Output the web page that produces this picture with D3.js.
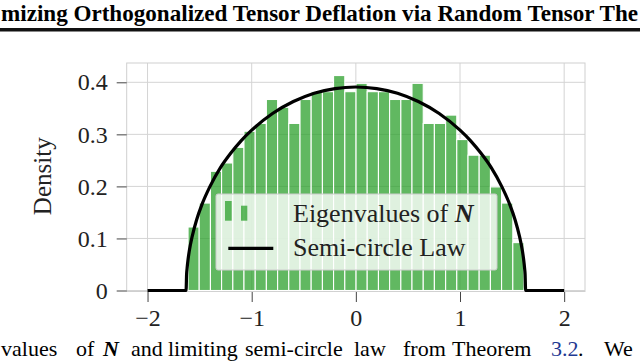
<!DOCTYPE html>
<html>
<head>
<meta charset="utf-8">
<script src="https://cdn.jsdelivr.net/npm/d3@7"></script>
<style>
  body { margin: 0; background: #fff; }
  svg { display: block; }
  text { font-family: "Liberation Serif", "DejaVu Serif", serif; }
</style>
</head>
<body>
<div id="chart"></div>
<script>
// histogram of eigenvalues (bin edges + density per bin)
var binEdges = [-1.611, -1.504, -1.396, -1.289, -1.181, -1.074, -0.966, -0.859, -0.751, -0.644,
    -0.536, -0.429, -0.321, -0.214, -0.106, 0.002, 0.109, 0.217, 0.324, 0.432,
    0.539, 0.647, 0.754, 0.862, 0.969, 1.077, 1.184, 1.292, 1.399, 1.507, 1.614];
var densities = [0.122, 0.168, 0.229, 0.245, 0.275, 0.306, 0.321, 0.367, 0.352, 0.321,
    0.367, 0.382, 0.382, 0.413, 0.382, 0.398, 0.382, 0.382, 0.367, 0.367,
    0.398, 0.321, 0.321, 0.337, 0.290, 0.260, 0.260, 0.199, 0.168, 0.092];

// semi-circle law curve
var lawX = [-2, -1.63, -1.625, -1.62, -1.61, -1.6, -1.57, -1.53, -1.48, -1.4, -1.3, -1.2, -1.1, -1.0,
    -0.8, -0.6, -0.4, -0.2, 0, 0.2, 0.4, 0.6, 0.8, 1.0, 1.1, 1.2, 1.3, 1.4, 1.48, 1.53, 1.57,
    1.6, 1.61, 1.62, 1.625, 1.63, 2];
var lawY = [0, 0, 0.031, 0.043, 0.061, 0.075, 0.105, 0.135, 0.164, 0.200, 0.236, 0.264, 0.288, 0.308,
    0.340, 0.363, 0.379, 0.388, 0.391, 0.388, 0.379, 0.363, 0.340, 0.308, 0.288, 0.264, 0.236, 0.200, 0.164, 0.135, 0.105,
    0.075, 0.061, 0.043, 0.031, 0, 0];

var xTicks = [-2, -1, 0, 1, 2];
var yTicks = [0, 0.1, 0.2, 0.3, 0.4];
var legendLabels = ["Eigenvalues of ", "Semi-circle Law"];

var svgWidth = 640, svgHeight = 363;
var margin = { top: 63, right: 55, bottom: 71.5, left: 126.7 };
var width = svgWidth - margin.left - margin.right;
var height = svgHeight - margin.top - margin.bottom;
var serif = "'Liberation Serif', 'DejaVu Serif', serif";

var svg = d3.select("#chart").append("svg")
    .attr("width", svgWidth)
    .attr("height", svgHeight);

// page header (cropped title line)
svg.append("text")
    .attr("x", 1)
    .attr("y", 21)
    .attr("font-size", 22.5)
    .attr("font-weight", "bold")
    .attr("textLength", 637)
    .attr("lengthAdjust", "spacingAndGlyphs")
    .text("mizing Orthogonalized Tensor Deflation via Random Tensor The");
svg.append("rect")
    .attr("x", 0).attr("y", 28)
    .attr("width", svgWidth).attr("height", 3.5)
    .attr("fill", "#111");

var chartGroup = svg.append("g")
    .attr("transform", `translate(${margin.left}, ${margin.top})`);

var xScale = d3.scaleLinear().domain([-2.2, 2.2]).range([0, width]);
var yScale = d3.scaleLinear().domain([0, 0.4]).range([227.5, 19.3]);

// grid
chartGroup.selectAll(".vgrid").data(xTicks).enter().append("line")
    .attr("x1", d => xScale(d)).attr("x2", d => xScale(d))
    .attr("y1", 0).attr("y2", height)
    .attr("stroke", "#d4d4d4").attr("stroke-width", 1);
chartGroup.selectAll(".hgrid").data(yTicks).enter().append("line")
    .attr("x1", 0).attr("x2", width)
    .attr("y1", d => yScale(d)).attr("y2", d => yScale(d))
    .attr("stroke", "#d4d4d4").attr("stroke-width", 1);

// frame
chartGroup.append("rect")
    .attr("x", 0).attr("y", 0)
    .attr("width", width).attr("height", height)
    .attr("fill", "none")
    .attr("stroke", "#cfcfcf").attr("stroke-width", 1);

// bars
chartGroup.selectAll(".bar").data(densities).enter().append("rect")
    .attr("x", (d, i) => xScale(binEdges[i]))
    .attr("width", (d, i) => xScale(binEdges[i + 1]) - xScale(binEdges[i]))
    .attr("y", d => yScale(d))
    .attr("height", d => yScale(0) - yScale(d))
    .attr("fill", "#2ca02c").attr("fill-opacity", 0.75)
    .attr("stroke", "#fff").attr("stroke-width", 1.1);

// semi-circle law line
var lawData = lawX.map((x, i) => [x, lawY[i]]);
var line = d3.line()
    .x(d => xScale(d[0]))
    .y(d => yScale(d[1]))
    .curve(d3.curveMonotoneX);
chartGroup.append("path")
    .datum(lawData)
    .attr("d", line)
    .attr("fill", "none")
    .attr("stroke", "#000")
    .attr("stroke-width", 3.2)
    .attr("stroke-linejoin", "round");

// axes
var xAxis = d3.axisBottom(xScale).tickValues(xTicks).tickSize(10).tickPadding(7)
    .tickFormat(d => d < 0 ? "\u2212" + Math.abs(d) : d);
var yAxis = d3.axisLeft(yScale).tickValues(yTicks).tickSize(10).tickPadding(9)
    .tickFormat(d => d === 0 ? "0" : d3.format(".1f")(d));

var gx = chartGroup.append("g")
    .attr("transform", `translate(0,${yScale(0) + 1.5})`)
    .call(xAxis);
var gy = chartGroup.append("g").call(yAxis);
[gx, gy].forEach(function (g) {
    g.attr("font-family", null);
    g.select(".domain").remove();
    g.selectAll(".tick line").attr("stroke", "#444").attr("stroke-width", 1);
    g.selectAll(".tick text")
        .style("font-family", serif)
        .style("font-size", "24px")
        .attr("fill", "#222");
});

// y axis label
chartGroup.append("text")
    .attr("transform", "rotate(-90)")
    .attr("x", -height / 2 + 1)
    .attr("y", -margin.left + 51)
    .attr("text-anchor", "middle")
    .attr("font-size", 25)
    .attr("fill", "#222")
    .text("Density");

// legend
var legend = svg.append("g");
legend.append("rect")
    .attr("x", 216).attr("y", 194)
    .attr("width", 281).attr("height", 76)
    .attr("rx", 2)
    .attr("fill", "#fff").attr("fill-opacity", 0.8)
    .attr("stroke", "#cccccc").attr("stroke-width", 1);
legend.append("rect")
    .attr("x", 225).attr("y", 201).attr("width", 6.7).attr("height", 19.7)
    .attr("fill", "#2ca02c").attr("fill-opacity", 0.75);
legend.append("rect")
    .attr("x", 241).attr("y", 205.7).attr("width", 6.3).attr("height", 15)
    .attr("fill", "#2ca02c").attr("fill-opacity", 0.75);
legend.append("line")
    .attr("x1", 228.3).attr("x2", 273.3)
    .attr("y1", 248.3).attr("y2", 248.3)
    .attr("stroke", "#000").attr("stroke-width", 3.2);
var t1 = legend.append("text")
    .attr("x", 293).attr("y", 222)
    .attr("font-size", 26).attr("fill", "#222")
    .text(legendLabels[0]);
t1.append("tspan")
    .attr("font-weight", "bold").attr("font-style", "italic")
    .text("N");
legend.append("text")
    .attr("x", 293).attr("y", 256)
    .attr("font-size", 26).attr("fill", "#222")
    .text(legendLabels[1]);

// caption below the figure (cropped)
var captionWords = [
    { t: "values", x: 1 }, { t: "of", x: 76 }, { t: "N", x: 103, b: true },
    { t: "and", x: 131 }, { t: "limiting", x: 168 }, { t: "semi-circle", x: 245 },
    { t: "law", x: 354 }, { t: "from", x: 403 }, { t: "Theorem", x: 452 },
    { t: "3.2", x: 551, c: "#1f3a93" }, { t: ".", x: 578 }, { t: "We", x: 604 }
];
var caption = svg.append("text")
    .attr("y", 356)
    .attr("font-size", 22)
    .attr("fill", "#000");
captionWords.forEach(function (w) {
    var s = caption.append("tspan").attr("x", w.x).text(w.t);
    if (w.b) s.attr("font-weight", "bold").attr("font-style", "italic");
    if (w.c) s.attr("fill", w.c);
});
</script>
</body>
</html>
